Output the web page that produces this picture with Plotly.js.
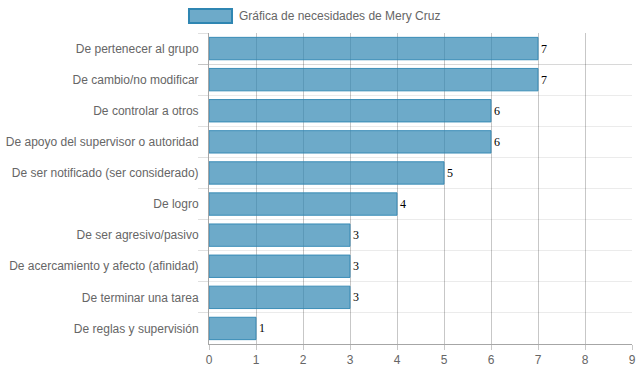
<!DOCTYPE html>
<html>
<head>
<meta charset="utf-8">
<script src="https://cdn.plot.ly/plotly-3.0.1.min.js"></script>
<style>html,body{margin:0;padding:0;background:#fff}#chart{width:639px;height:372px}</style>
</head>
<body>
<div id="chart"></div>
<script>
const categories = [
  "De pertenecer al grupo",
  "De cambio/no modificar",
  "De controlar a otros",
  "De apoyo del supervisor o autoridad",
  "De ser notificado (ser considerado)",
  "De logro",
  "De ser agresivo/pasivo",
  "De acercamiento y afecto (afinidad)",
  "De terminar una tarea",
  "De reglas y supervisión"
];
const values = [7, 7, 6, 6, 5, 4, 3, 3, 3, 1];
const seriesName = "Gráfica de necesidades de Mery Cruz";
const xTicks = [0, 1, 2, 3, 4, 5, 6, 7, 8, 9];

const barFill = "rgba(47,134,178,0.7)";
const barLine = "rgba(47,134,178,0.9)";

const trace = {
  type: "bar",
  orientation: "h",
  name: seriesName,
  y: categories,
  x: values,
  text: values.map(String),
  textposition: "outside",
  cliponaxis: false,
  textfont: {family: "Liberation Serif, Times New Roman, serif", size: 12, color: "#000"},
  marker: {color: barFill, line: {color: barLine, width: 1}},
  width: 0.72,
  showlegend: false,
  hoverinfo: "x+y"
};

const layout = {
  width: 639, height: 372,
  margin: {l: 209, r: 7, t: 33, b: 28},
  paper_bgcolor: "#fff", plot_bgcolor: "#fff",
  font: {family: "Liberation Sans, Arial, sans-serif", size: 12, color: "#666"},
  showlegend: false,
  xaxis: {
    range: [0, 9], tickvals: xTicks, ticktext: xTicks.map(String),
    showgrid: true, gridcolor: "rgba(0,0,0,0.22)", gridwidth: 1,
    zeroline: false, showline: true, linecolor: "rgba(0,0,0,0.35)", linewidth: 1,
    ticks: "outside", ticklen: 5, tickcolor: "rgba(0,0,0,0.22)",
    tickfont: {size: 12, color: "#666"}, fixedrange: true
  },
  yaxis: {
    type: "category", autorange: "reversed",
    tickson: "boundaries", showgrid: true, gridcolor: "rgba(0,0,0,0.08)",
    ticks: "outside", ticklen: 10, tickcolor: "rgba(0,0,0,0.12)",
    ticklabelstandoff: 7,
    showline: true, linecolor: "rgba(0,0,0,0.35)", linewidth: 1,
    tickfont: {size: 12, color: "#666"}, fixedrange: true
  },
  shapes: [{
    type: "rect", xref: "paper", yref: "paper",
    x0: -0.0473, x1: 0.0544, y0: 1.0322, y1: 1.0772,
    fillcolor: barFill, line: {color: "rgba(47,134,178,1)", width: 2}
  }],
  annotations: [{
    xref: "paper", yref: "paper", x: 0.0662, y: 1.0547,
    xanchor: "left", yanchor: "middle", showarrow: false,
    text: seriesName, font: {size: 12, color: "#666"}
  }]
};

Plotly.newPlot("chart", [trace], layout, {displayModeBar: false, staticPlot: true});
</script>
</body>
</html>
